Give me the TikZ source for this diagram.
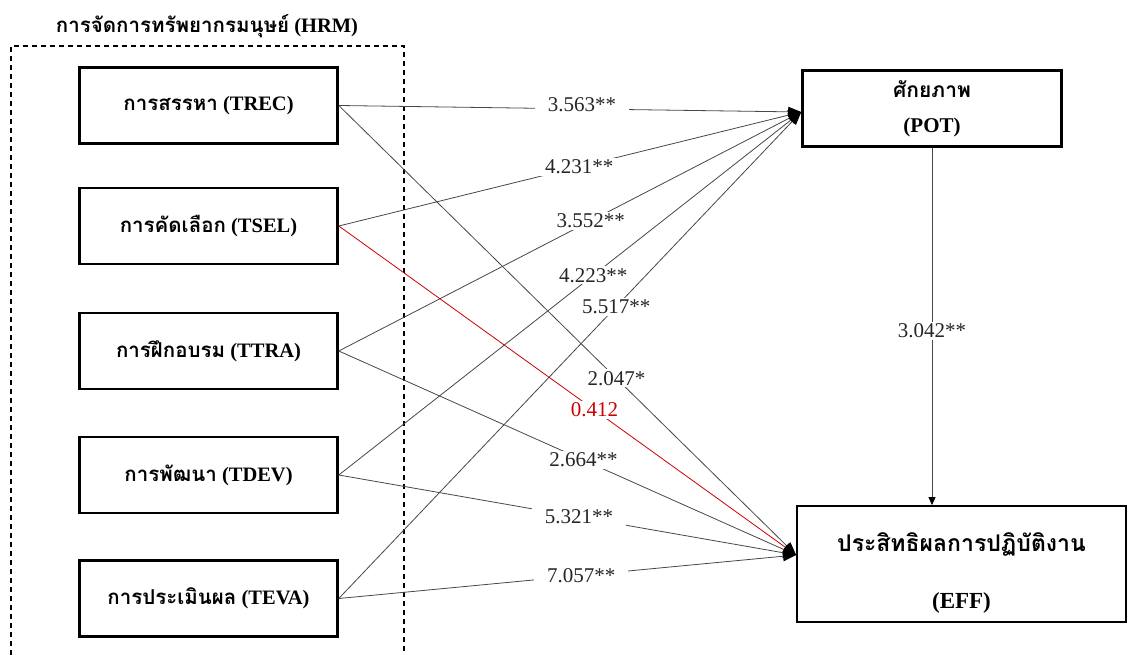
\documentclass[tikz,border=0pt]{standalone}
\usepackage{fontspec}
\setmainfont{Liberation Serif}
\newfontfamily\thai[Script=Thai]{Loma}
\usetikzlibrary{arrows.meta}
\begin{document}
\begin{tikzpicture}[x=1pt,y=-1pt,
  srcbox/.style={draw, line width=2.6pt, minimum width=258pt, minimum height=76pt, font=\bfseries\fontsize{20.5}{24}\selectfont, inner sep=0pt},
  conn/.style={draw=black!72, line width=0.8pt},
  redconn/.style={draw=red!80!black, line width=0.8pt},
  lbl/.style={fill=white, font=\fontsize{21}{24}\selectfont, inner xsep=13pt, inner ysep=2pt, text=black!85},
  redlbl/.style={lbl, text=red!80!black},
  tip/.style={-{Triangle[length=13pt,width=10pt,color=black]}},
  smalltip/.style={-{Triangle[length=8pt,width=7pt,color=black]}}
]
\useasboundingbox (0,0) rectangle (1128,655);
\node[font=\bfseries\fontsize{20.5}{24}\selectfont] (hrm) at (207,26) {{\thai การจัดการทรัพยากรมนุษย์} (HRM)};
\draw[line width=1.2pt, dash pattern=on 5pt off 4pt] (11,655) -- (11,46) -- (404,46) -- (404,655);

\node[srcbox] (trec) at (208.5,105.5) {{\thai การสรรหา} (TREC)};
\node[srcbox] (tsel) at (208.5,226) {{\thai การคัดเลือก} (TSEL)};
\node[srcbox] (ttra) at (208.5,351) {{\thai การฝึกอบรม} (TTRA)};
\node[srcbox] (tdev) at (208.5,475) {{\thai การพัฒนา} (TDEV)};
\node[srcbox] (teva) at (208.5,598.5) {{\thai การประเมินผล} (TEVA)};

\node[draw, line width=2.6pt, minimum width=259pt, minimum height=76pt, align=center, inner sep=0pt,
  font=\bfseries\fontsize{21}{35}\selectfont] (pot) at (932,108.5) {{\thai ศักยภาพ}\\(POT)};
\node[draw, line width=1.8pt, minimum width=329pt, minimum height=116pt, inner sep=0pt] (eff) at (961.5,564) {};
\node[align=center, inner sep=0pt, font=\bfseries\fontsize{23}{57}\selectfont] (efftext) at (961.5,573) {{\thai ประสิทธิผลการปฏิบัติงาน}\\(EFF)};

\coordinate (potin) at ([yshift=-3.5pt]pot.west);
\coordinate (effin) at ([yshift=9pt]eff.west);

\draw[conn, tip] (trec.east) -- node[lbl, pos=0.526, yshift=4pt] {3.563**} (potin);
\draw[conn, tip] (tsel.east) -- node[lbl, pos=0.52] {4.231**} (potin);
\draw[conn, tip] (ttra.east) -- node[lbl, pos=0.545] {3.552**} (potin);
\draw[conn, tip] (tdev.east) -- node[lbl, pos=0.55] {4.223**} (potin);
\draw[conn, tip] (teva.east) -- node[lbl, pos=0.6] {5.517**} (potin);

\draw[conn, tip] (trec.east) -- node[lbl, pos=0.607] {2.047*} (effin);
\draw[redconn, tip] (tsel.east) -- node[redlbl, pos=0.559] {0.412} (effin);
\draw[conn, tip] (ttra.east) -- node[lbl, pos=0.535] {2.664**} (effin);
\draw[conn, tip] (tdev.east) -- node[lbl, pos=0.525] {5.321**} (effin);
\draw[conn, tip] (teva.east) -- node[lbl, pos=0.53] {7.057**} (effin);

\draw[conn, smalltip] (pot.south) -- node[lbl, pos=0.513] {3.042**} (pot.south |- eff.north);
\end{tikzpicture}
\end{document}
